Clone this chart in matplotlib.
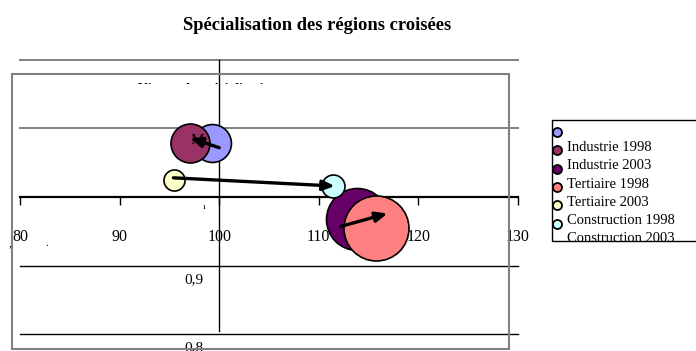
import matplotlib
matplotlib.use("Agg")
import matplotlib.pyplot as plt
from matplotlib.patches import Rectangle
from matplotlib.lines import Line2D
from matplotlib.transforms import Bbox

# --- data -------------------------------------------------------------
titre = "Spécialisation des régions croisées"
titre_y = "Niveau de spécialisation"
series = ["Industrie 1998", "Industrie 2003", "Tertiaire 1998",
          "Tertiaire 2003", "Construction 1998", "Construction 2003"]
couleurs = ["#9999FF", "#993366", "#660066", "#FF8080", "#FFFFCC", "#CCFFFF"]
x_vals = [99.25, 97.1, 113.8, 115.7, 95.5, 111.4]
y_vals = [1.079, 1.079, 0.968, 0.955, 1.025, 1.016]
poids = [34, 36, 91, 100, 10.5, 12.5]

# fleches 1998 -> 2003 (départ x, départ y, arrivée x, arrivée y)
fl_x0 = [100.0, 112.2, 95.4]
fl_y0 = [1.072, 0.957, 1.028]
fl_x1 = [97.1, 116.9, 111.6]
fl_y1 = [1.086, 0.976, 1.016]

x_ticks = [80, 90, 100, 110, 120, 130]
x_labels = ["80", "90", "100", "110", "120", "130"]
y_grid = [0.8, 0.9, 1.0, 1.1, 1.2]
y_labels = {0.8: "0,8", 0.9: "0,9"}

W, H = 696, 351
SERIF = "Liberation Serif"


def fx(px):
    return px / W


def fy(py):
    return 1 - py / H


fig = plt.figure(figsize=(W / 100, H / 100), dpi=100)

# cadre de la zone de tracé
fig.add_artist(Rectangle((fx(12), fy(349)), fx(509) - fx(12), fy(74) - fy(349),
                         transform=fig.transFigure, fill=False,
                         ec="#808080", lw=1.5))

ax = fig.add_axes([fx(20), fy(334), fx(518) - fx(20), fy(60) - fy(334)])
ax.patch.set_alpha(0)
ax.set_xlim(80, 130)
ax.set_ylim(0.8, 1.2)

for s in ["top", "right"]:
    ax.spines[s].set_visible(False)
ax.spines["left"].set_position(("data", 100))
ax.spines["left"].set_linewidth(1.0)
ax.spines["left"].set_bounds(0.805, 1.2)
ax.spines["bottom"].set_position(("data", 1))
ax.spines["bottom"].set_linewidth(1.6)
ax.spines["bottom"].set_zorder(1)

for v in y_grid:
    if v == 1.0:
        continue
    col = "#808080" if v > 1 else "black"
    ax.axhline(v, color=col, lw=1.4 if v > 1 else 1.0, zorder=0, clip_on=False)

ax.set_yticks([])
ax.set_xticks(x_ticks)
ax.set_xticklabels(x_labels, family=SERIF, fontsize=11.5)
ax.tick_params(axis="x", direction="out", length=6, width=1, pad=17)

for v, lab in y_labels.items():
    ax.annotate(lab, (100, v), xytext=(-18, -10), textcoords="offset points",
                ha="center", va="center", family=SERIF, fontsize=11,
                annotation_clip=False)
ax.annotate("1", (100, 1.0), xytext=(-11, -7.5), textcoords="offset points",
            ha="center", va="center", family=SERIF, fontsize=4, weight="bold")

# bulles
for i in range(len(series)):
    ax.scatter(x_vals[i], y_vals[i], s=poids[i] * 21.9, color=couleurs[i],
               edgecolors="black", linewidths=1.2, zorder=3, clip_on=False)

ax.text(97.8, 1.082, "M", family=SERIF, fontsize=11, ha="center", va="center",
        zorder=4)

for i in range(len(fl_x0)):
    ax.annotate("", xy=(fl_x1[i], fl_y1[i]), xytext=(fl_x0[i], fl_y0[i]),
                arrowprops=dict(arrowstyle="-|>,head_length=0.7,head_width=0.3",
                                color="black", lw=2.4, shrinkA=0, shrinkB=0),
                zorder=5)

# titre de l'axe Y (tronqué dans l'original : seuls les hauts de lettres)
t = fig.text(fx(138), fy(93), titre_y, family=SERIF, fontsize=9.8,
             weight="bold", ha="left", va="baseline")
t.set_clip_box(Bbox([[0, H - 84], [W, H - 78]]))
t.set_clip_on(True)

fig.text(fx(10), fy(244), ",", family=SERIF, fontsize=8, ha="center", va="center")
fig.text(fx(47), fy(243), ".", family=SERIF, fontsize=8, ha="center", va="center")

fig.text(fx(317), fy(26), titre, family=SERIF, fontsize=13.3, weight="bold",
         ha="center", va="center")

# légende
fig.add_artist(Rectangle((fx(552), fy(241)), fx(720) - fx(552), fy(120) - fy(241),
                         transform=fig.transFigure, fill=False, ec="black", lw=1.0))
for i, nom in enumerate(series):
    ym = 132 + 18.3 * i
    fig.add_artist(Line2D([fx(557)], [fy(ym)], marker="o", ms=6.5,
                          mfc=couleurs[i], mec="black", mew=1.3,
                          transform=fig.transFigure))
    fig.text(fx(567), fy(ym + 15.5), nom, family=SERIF, fontsize=10.5,
             ha="left", va="center")

fig.savefig("out.png", dpi=100)
